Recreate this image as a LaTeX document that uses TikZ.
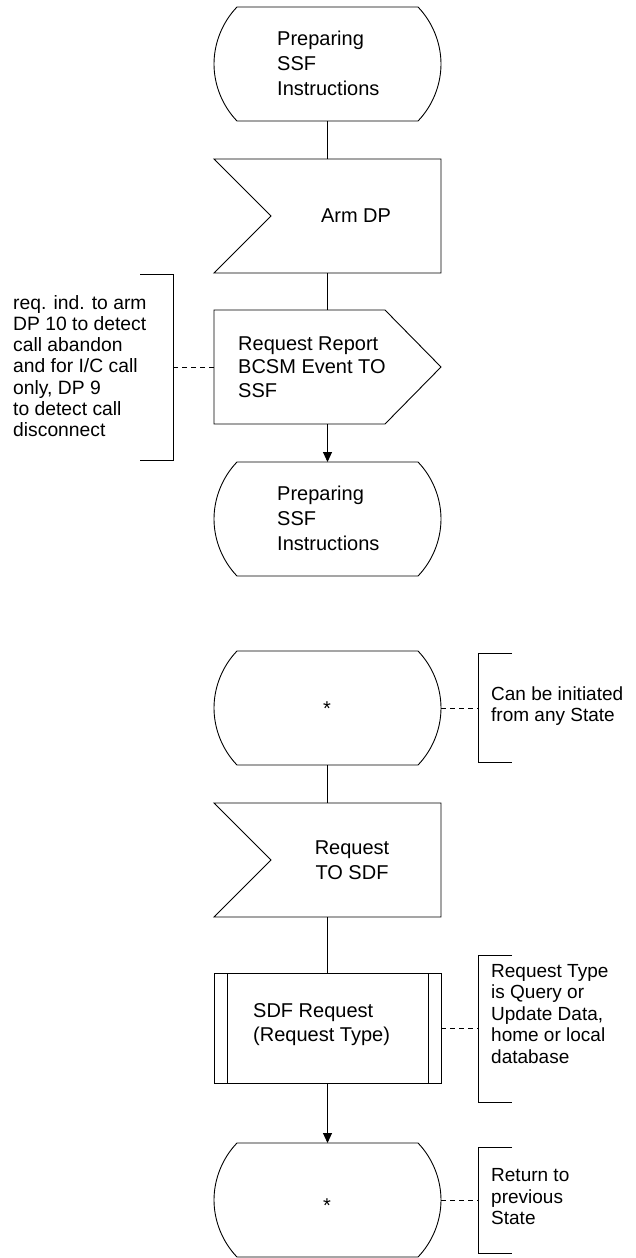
\documentclass[tikz,border=0pt]{standalone}
\usepackage{fontspec}
\setmainfont{Liberation Sans}
\usetikzlibrary{calc,arrows.meta}
\newcommand\stateshape[1]{%
  \draw[shapeline] ($(#1.north west)+(23,0)$) -- ($(#1.north east)+(-23,0)$)
    .. controls ($(#1.north east)+(-8.5,15)$) and ($(#1.east)+(0,-21)$) .. (#1.east)
    .. controls ($(#1.east)+(0,21)$) and ($(#1.south east)+(-8.5,-15)$) .. ($(#1.south east)+(-23,0)$)
    -- ($(#1.south west)+(23,0)$)
    .. controls ($(#1.south west)+(8.5,-15)$) and ($(#1.west)+(0,21)$) .. (#1.west)
    .. controls ($(#1.west)+(0,-21)$) and ($(#1.north west)+(8.5,15)$) .. cycle;}
\begin{document}
\begin{tikzpicture}[x=1pt,y=-1pt,
  shapeline/.style={line width=0.9pt},
  boxnode/.style={minimum width=227pt,minimum height=114pt,inner sep=0pt,outer sep=0pt},
  conn/.style={line width=0.9pt},
  arr/.style={conn,-{Triangle[length=10pt,width=9pt]}},
  note/.style={line width=0.9pt,dash pattern=on 5pt off 4pt},
  brk/.style={line width=0.9pt},
  boxtext/.style={inner sep=0pt,font=\fontsize{20}{25}\selectfont},
  notetext/.style={inner sep=0pt,align=left,anchor=west,font=\fontsize{19}{21.5}\selectfont}]
\useasboundingbox (0,0) rectangle (636,1258);
% shape nodes
\node[boxnode] (s1) at (327.5,64) {};
\node[boxnode] (arm) at (327.5,216) {};
\node[boxnode] (rr) at (327.5,367) {};
\node[boxnode] (s2) at (327.5,519) {};
\node[boxnode] (s3) at (327.5,708) {};
\node[boxnode] (req) at (327.5,860) {};
\node[boxnode,minimum height=110pt] (sdf) at (327.5,1028) {};
\node[boxnode] (s4) at (327.5,1200) {};
% outlines
\stateshape{s1}
\stateshape{s2}
\stateshape{s3}
\stateshape{s4}
\draw[shapeline] (arm.north west) -- (arm.north east) -- (arm.south east) -- (arm.south west) -- ($(arm.west)+(57,0)$) -- cycle;
\draw[shapeline] (req.north west) -- (req.north east) -- (req.south east) -- (req.south west) -- ($(req.west)+(57,0)$) -- cycle;
\draw[shapeline] (rr.north west) -- ($(rr.north east)+(-56,0)$) -- (rr.east) -- ($(rr.south east)+(-56,0)$) -- (rr.south west) -- cycle;
\draw[shapeline] (sdf.north west) rectangle (sdf.south east);
\draw[shapeline] ($(sdf.north west)+(13,0)$) -- ($(sdf.south west)+(13,0)$);
\draw[shapeline] ($(sdf.north east)+(-13,0)$) -- ($(sdf.south east)+(-13,0)$);
% texts
\node[boxtext,align=left,anchor=west] (t1) at (277,63) {Preparing\\SSF\\Instructions};
\node[boxtext] (t2) at (356,216) {Arm DP};
\node[boxtext,align=left,anchor=west,font=\fontsize{20}{23.5}\selectfont] (t3) at (238,367) {Request Report\\BCSM Event TO\\SSF};
\node[boxtext,align=left,anchor=west] (t4) at (277,518) {Preparing\\SSF\\Instructions};
\node[boxtext] (t5) at (327,709) {*};
\node[boxtext,align=center] (t6) at (352,860) {Request\\TO SDF};
\node[boxtext,align=left,anchor=west,font=\fontsize{20}{24}\selectfont] (t7) at (253,1025) {SDF Request\\(Request Type)};
\node[boxtext] (t8) at (327,1206) {*};
% connectors
\draw[conn] (s1.south) -- (arm.north);
\draw[conn] (arm.south) -- (rr.north);
\draw[arr] (rr.south) -- (s2.north);
\draw[conn] (s3.south) -- (req.north);
\draw[conn] (req.south) -- (sdf.north);
\draw[arr] (sdf.south) -- (s4.north);
% annotations
\coordinate (b1) at (173,367);
\coordinate (b2) at (478,708);
\coordinate (b3) at (478,1028);
\coordinate (b4) at (478,1200);
\draw[brk] (140,274) -- (173,274) -- (173,460) -- (140,460);
\draw[brk] (512,653) -- (478,653) -- (478,762) -- (512,762);
\draw[brk] (512,955) -- (478,955) -- (478,1102) -- (512,1102);
\draw[brk] (512,1147) -- (478,1147) -- (478,1253) -- (512,1253);
\draw[note] (rr.west) -- (b1);
\draw[note] (s3.east) -- (b2);
\draw[note] (sdf.east) -- (b3);
\draw[note] (s4.east) -- (b4);
\node[notetext,font=\fontsize{19.3}{21.3}\selectfont] (n1) at (13,366) {req. ind. to arm\\DP 10 to detect\\call abandon\\and for I/C call\\only, DP 9\\to detect call\\disconnect};
\node[notetext] (n2) at (491,706) {Can be initiated\\from any State};
\node[notetext] (n3) at (491,1014) {Request Type\\is Query or\\Update Data,\\home or local\\database};
\node[notetext] (n4) at (491,1197) {Return to\\previous\\State};
\end{tikzpicture}
\end{document}
